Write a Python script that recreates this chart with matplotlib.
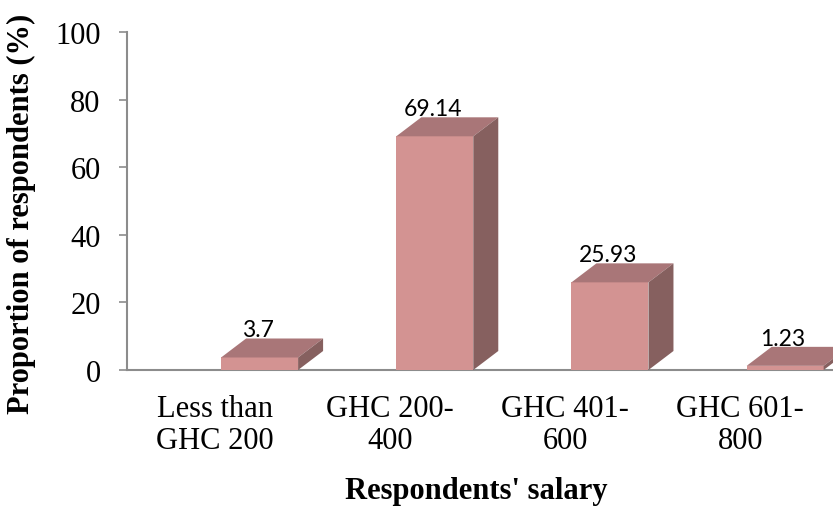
import matplotlib
matplotlib.use("Agg")
import matplotlib.pyplot as plt
from matplotlib.patches import Polygon

categories = ["Less than\nGHC 200", "GHC 200-\n400", "GHC 401-\n600", "GHC 601-\n800"]
values = [3.7, 69.14, 25.93, 1.23]
value_labels = ["3.7", "69.14", "25.93", "1.23"]
yticks = [0, 20, 40, 60, 80, 100]

W, H, DPI = 833, 510, 100
fig = plt.figure(figsize=(W / DPI, H / DPI), dpi=DPI)
ax_l, ax_b, ax_r, ax_t = 127, 139, 833, 477
ax = fig.add_axes([ax_l / W, ax_b / H, (ax_r - ax_l) / W, (ax_t - ax_b) / H])

xmin, xmax = -0.5, 3.53
ax.set_xlim(xmin, xmax)
ax.set_ylim(0, 100)

sx = (ax_r - ax_l) / (xmax - xmin)   # px per x unit
sy = (ax_t - ax_b) / 100.0           # px per y unit
dx = 25 / sx
dy = 19 / sy
shift = 45 / sx
bw = 77 / sx

front = "#D39392"
top_c = "#A97678"
side_c = "#86605F"

xs = [i + shift for i in range(len(values))]
ax.bar(xs, values, width=bw, color=front, edgecolor="none", zorder=3, clip_on=False)
for x, v, lab in zip(xs, values, value_labels):
    x0, x1 = x - bw / 2, x + bw / 2
    ax.add_patch(Polygon([(x0, v), (x1, v), (x1 + dx, v + dy), (x0 + dx, v + dy)],
                         closed=True, facecolor=top_c, edgecolor="none", zorder=3, clip_on=False))
    ax.add_patch(Polygon([(x1, 0), (x1 + dx, dy), (x1 + dx, v + dy), (x1, v)],
                         closed=True, facecolor=side_c, edgecolor="none", zorder=3, clip_on=False))
    ax.text(x - 2 / sx, v + dy + 2 / sy, lab, ha="center", va="baseline", fontsize=16.5,
            family="Lato", color="black", zorder=5)

ax.set_xticks(range(len(categories)))
ax.set_xticklabels(categories, family="Liberation Serif", fontsize=22, linespacing=1.15)
ax.tick_params(axis="x", length=0, pad=17)
ax.set_yticks(yticks)
ax.set_yticklabels([str(t) for t in yticks], family="Liberation Serif", fontsize=22)
ax.tick_params(axis="y", length=6, width=1.2, color="#8c8c8c", pad=13, direction="out")

for s in ["top", "right"]:
    ax.spines[s].set_visible(False)
for s in ["left", "bottom"]:
    ax.spines[s].set_color("#8c8c8c")
    ax.spines[s].set_linewidth(1.5)

fig.text(21 / W, 1 - 214 / H, "Proportion of respondents (%)", family="Liberation Serif",
         fontsize=22, fontweight="bold", rotation=90, ha="center", va="center")
fig.text(476 / W, 11 / H, "Respondents' salary", family="Liberation Serif",
         fontsize=22, fontweight="bold", ha="center", va="baseline")

fig.savefig("out.png", dpi=DPI)
